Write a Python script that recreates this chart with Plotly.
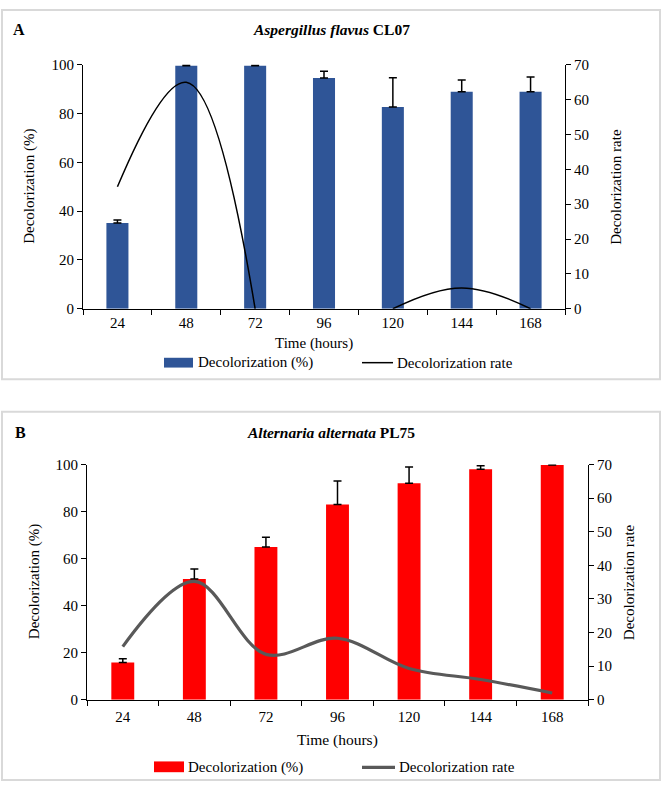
import plotly.graph_objects as go

# ---------------- data ----------------
hours = ["24", "48", "72", "96", "120", "144", "168"]

decol_A = [35.2, 99.6, 99.6, 94.6, 82.7, 89.0, 89.0]
decol_A_err = [1.2, 0.4, 0.3, 2.8, 12.0, 4.8, 6.0]
rate_A = [35.0, 65.0, 0.0, None, 0.0, 6.0, 0.0]

decol_B = [15.8, 51.3, 64.9, 83.0, 92.0, 98.0, 99.8]
decol_B_err = [1.6, 4.3, 4.2, 10.0, 7.0, 1.5, 0.3]
rate_B = [15.8, 35.2, 13.5, 18.3, 9.3, 6.0, 2.0]

W, H = 662, 790
FONT = "Liberation Serif, Times New Roman, serif"


def px(x):
    return x / W


def py(y):
    return 1 - y / H


fig = go.Figure()

fig.add_trace(go.Bar(
    x=hours, y=decol_A, width=0.32, marker=dict(color="#2F5597", line=dict(width=0)),
    error_y=dict(type="data", symmetric=False, array=decol_A_err,
                 arrayminus=[0] * len(hours), color="black", thickness=1.5, width=4),
    xaxis="x", yaxis="y", showlegend=False))
fig.add_trace(go.Scatter(
    x=hours, y=rate_A, mode="lines", connectgaps=False,
    line=dict(color="black", width=1.5, shape="spline", smoothing=1.15),
    xaxis="x", yaxis="y2", showlegend=False))

fig.add_trace(go.Bar(
    x=hours, y=decol_B, width=0.32, marker=dict(color="#FF0000", line=dict(width=0)),
    error_y=dict(type="data", symmetric=False, array=decol_B_err,
                 arrayminus=[0] * len(hours), color="black", thickness=1.5, width=4),
    xaxis="x2", yaxis="y3", showlegend=False))
fig.add_trace(go.Scatter(
    x=hours, y=rate_B, mode="lines",
    line=dict(color="#595959", width=3.2, shape="spline", smoothing=1),
    xaxis="x2", yaxis="y4", showlegend=False))

tickfont = dict(family=FONT, size=15, color="black")
common_x = dict(type="category", showline=True, linecolor="black", linewidth=1,
                ticks="outside", tickson="boundaries", ticklen=5, tickcolor="black",
                showgrid=False, zeroline=False, tickfont=tickfont, fixedrange=True)
common_y = dict(showline=True, linecolor="black", linewidth=1, ticks="outside",
                ticklen=5, tickcolor="black", showgrid=False, zeroline=False,
                tickfont=tickfont, fixedrange=True)

# plot areas (pixels)
A_l, A_r, A_t, A_b = 83, 565, 58, 307
B_l, B_r, B_t, B_b = 87, 588, 466, 706

fig.update_layout(
    width=W, height=H, margin=dict(l=0, r=0, t=0, b=0),
    paper_bgcolor="white", plot_bgcolor="white",
    font=dict(family=FONT, color="black"),
    bargap=0.68,
    xaxis=dict(domain=[px(A_l), px(A_r)], anchor="y", **common_x),
    yaxis=dict(domain=[py(A_b), py(A_t)], anchor="x", range=[0, 100], dtick=20, **common_y),
    yaxis2=dict(overlaying="y", side="right", anchor="x", range=[0, 70], dtick=10, **common_y),
    xaxis2=dict(domain=[px(B_l), px(B_r)], anchor="y3", ticklabelstandoff=3, **common_x),
    yaxis3=dict(domain=[py(B_b), py(B_t)], anchor="x2", range=[0, 100], dtick=20, **common_y),
    yaxis4=dict(overlaying="y3", side="right", anchor="x2", range=[0, 70], dtick=10, **common_y),
)

shapes = []
# panel borders
for (y0, y1) in [(2, 379), (412, 788)]:
    shapes.append(dict(type="rect", xref="paper", yref="paper", x0=px(2), x1=px(660),
                       y0=py(y1), y1=py(y0), line=dict(color="#D9D9D9", width=2)))
# legend keys A
shapes.append(dict(type="rect", xref="paper", yref="paper", x0=px(164), x1=px(193),
                   y0=py(367), y1=py(357), fillcolor="#2F5597", line=dict(width=0)))
shapes.append(dict(type="line", xref="paper", yref="paper", x0=px(362), x1=px(393),
                   y0=py(362), y1=py(362), line=dict(color="black", width=1.5)))
# legend keys B
shapes.append(dict(type="rect", xref="paper", yref="paper", x0=px(154), x1=px(184),
                   y0=py(780), y1=py(769), fillcolor="#FF0000", line=dict(width=0)))
shapes.append(dict(type="line", xref="paper", yref="paper", x0=px(362), x1=px(395),
                   y0=py(775), y1=py(775), line=dict(color="#595959", width=3.2)))
fig.update_layout(shapes=shapes)

ann = []


def text(x, y, s, size=15, anchor="center", angle=0):
    ann.append(dict(x=px(x), y=py(y), xref="paper", yref="paper", text=s, showarrow=False,
                    xanchor=anchor, yanchor="middle", textangle=angle,
                    font=dict(family=FONT, size=size, color="black")))


# Panel A
text(19, 22, "<b>A</b>", size=16)
text(331, 22, "<b><i>Aspergillus flavus</i> CL07</b>", size=15.5)
text(30, (A_t + A_b) / 2, "Decolorization (%)", angle=-90)
text(616, (A_t + A_b) / 2, "Decolorization rate", angle=-90)
text(314, 342, "Time (hours)", size=15)
text(196, 362, "Decolorization (%)", anchor="left")
text(395, 362, "Decolorization rate", anchor="left")

# Panel B
text(20, 433, "<b>B</b>", size=16)
text(331, 433, "<b><i>Alternaria alternata</i> PL75</b>", size=15.5)
text(34, (B_t + B_b) / 2, "Decolorization (%)", angle=-90)
text(629, (B_t + B_b) / 2, "Decolorization rate", angle=-90)
text(337, 747, "Time (hours)", size=15.5)
text(186, 775, "Decolorization (%)", anchor="left")
text(397, 775, "Decolorization rate", anchor="left")

fig.update_layout(annotations=ann)

fig.write_html("out.html")
